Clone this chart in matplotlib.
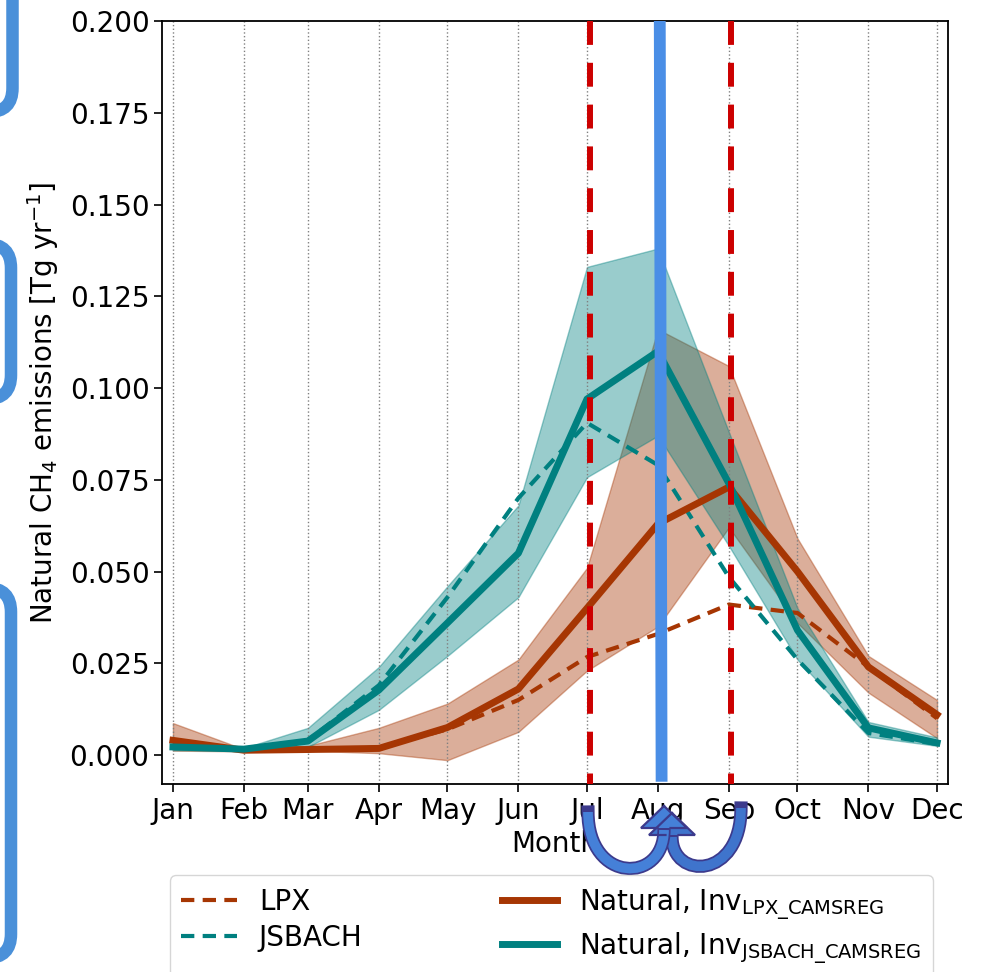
import numpy as np
import matplotlib.pyplot as plt
import matplotlib.patheffects as pe
from matplotlib.patches import FancyBboxPatch, PathPatch, Polygon
from matplotlib.lines import Line2D
from matplotlib.path import Path

# monthly values (Tg/yr)
months = ['Jan', 'Feb', 'Mar', 'Apr', 'May', 'Jun', 'Jul', 'Aug', 'Sep', 'Oct', 'Nov', 'Dec']
doy = [1, 32, 60, 91, 121, 152, 182, 213, 244, 274, 305, 335]

lpx = [0.003, 0.0015, 0.0015, 0.002, 0.007, 0.015, 0.0267, 0.033, 0.041, 0.0387, 0.024, 0.010]
jsbach = [0.002, 0.0015, 0.004, 0.019, 0.043, 0.070, 0.0905, 0.079, 0.0485, 0.026, 0.006, 0.003]

inv_lpx = [0.004, 0.0013, 0.0015, 0.0018, 0.0075, 0.018, 0.040, 0.063, 0.073, 0.050, 0.024, 0.011]
inv_lpx_hi = [0.0087, 0.0016, 0.0025, 0.0074, 0.014, 0.026, 0.051, 0.116, 0.106, 0.059, 0.027, 0.015]
inv_lpx_lo = [0.0012, 0.001, 0.0012, 0.0005, -0.0014, 0.0063, 0.023, 0.035, 0.062, 0.036, 0.017, 0.0046]

inv_jsb = [0.0022, 0.0016, 0.0038, 0.0177, 0.036, 0.055, 0.097, 0.110, 0.074, 0.034, 0.0074, 0.0033]
inv_jsb_hi = [0.003, 0.0019, 0.0074, 0.024, 0.046, 0.068, 0.133, 0.138, 0.088, 0.040, 0.009, 0.0048]
inv_jsb_lo = [0.0013, 0.0012, 0.0022, 0.0123, 0.027, 0.043, 0.0757, 0.087, 0.057, 0.026, 0.005, 0.0025]

BROWN = '#a63603'
TEAL = '#008080'

plt.rcParams['font.size'] = 20

fig = plt.figure(figsize=(9.9, 9.72), dpi=100)
ax = fig.add_axes([0.1636, 0.1934, 0.794, 0.785])

ax.fill_between(doy, inv_lpx_lo, inv_lpx_hi, color=BROWN, alpha=0.4)
ax.fill_between(doy, inv_jsb_lo, inv_jsb_hi, color=TEAL, alpha=0.4)

ax.plot(doy, lpx, color=BROWN, lw=3, dashes=(3.2, 2.0), label='LPX')
ax.plot(doy, jsbach, color=TEAL, lw=3, dashes=(3.2, 2.0), label='JSBACH')
ax.plot(doy, inv_lpx, '-', color=BROWN, lw=5, label=r'Natural, Inv$_{\mathrm{LPX\_CAMSREG}}$')
ax.plot(doy, inv_jsb, '-', color=TEAL, lw=5, label=r'Natural, Inv$_{\mathrm{JSBACH\_CAMSREG}}$')

ax.set_xlim(-3.8, 339.8)
ax.set_ylim(-0.0079, 0.2)
ax.set_xticks(doy)
ax.set_xticklabels(months)
ax.set_yticks(np.arange(0, 0.2001, 0.025))
ax.yaxis.set_major_formatter(plt.FormatStrFormatter('%.3f'))
ax.grid(axis='x', linestyle=':', color='grey', lw=1)
ax.tick_params(length=5.5, width=1.2)
for s in ax.spines.values():
    s.set_linewidth(1.3)

ax.set_xlabel('Month', labelpad=4)
ax.set_ylabel(r'Natural CH$_4$ emissions [Tg yr$^{-1}$]', labelpad=6)

# highlight lines: Jul / Sep window around Aug
trans = ax.get_xaxis_transform()
for xm in [doy[6] + 1.2, doy[8] + 0.8]:
    ax.plot([xm, xm], [1, 0], color='#cc0000', lw=4.3, dashes=(4, 3), transform=trans, zorder=6)
ax.plot([doy[7] + 0.8, doy[7] + 1.6], [1, 0.003], color='#4a8ee6', lw=8.5, transform=trans,
        zorder=6, solid_capstyle='butt')

fig.legend(loc='upper left', bbox_to_anchor=(170 / 990, 1 - 875 / 972), ncol=2,
           borderaxespad=0, columnspacing=5.0, borderpad=0.4, labelspacing=0.28, fontsize=20)

# blue brackets at the left edge
for right, bottom, top in [(12.5, 112, -200), (11, 399, 244), (11, 958, 588)]:
    x0 = -100 / 100
    y0 = (972 - bottom) / 100
    y1 = (972 - top) / 100
    box = FancyBboxPatch((x0, y0), right / 100 - x0, y1 - y0,
                         boxstyle='round,pad=0,rounding_size=0.24',
                         transform=fig.dpi_scale_trans, fc='none', ec='#4a90d9', lw=9)
    fig.add_artist(box)


# curved arrows Jul -> Aug <- Sep (positions in pixels from the top-left)
def P(x, y):
    return (x / 100, (972 - y) / 100)


def curved_arrow(x0, y0, x1, y1, c, fc, ec='#3c3a8c', hl=22, hw=46, bw=13):
    base = y1 + hl
    body = Path([P(x0, y0), P(x0, c), P(x1, c), P(x1, base + 2)],
                [Path.MOVETO, Path.CURVE4, Path.CURVE4, Path.CURVE4])
    fig.add_artist(PathPatch(body, fc='none', ec=fc, lw=7, capstyle='butt',
                             transform=fig.dpi_scale_trans,
                             path_effects=[pe.Stroke(linewidth=9.5, foreground=ec, capstyle='projecting'),
                                           pe.Normal()]))
    head = [P(x1, y1), P(x1 + hw / 2, base), P(x1 + bw / 2, base),
            P(x1 - bw / 2, base), P(x1 - hw / 2, base)]
    fig.add_artist(Polygon(head, closed=True, fc=fc, ec='none', transform=fig.dpi_scale_trans))
    for side in (1, -1):
        pts = [P(x1 + side * bw / 2, base), P(x1 + side * hw / 2, base), P(x1, y1)]
        fig.add_artist(Line2D([p[0] for p in pts], [p[1] for p in pts], color=ec, lw=1.6,
                              solid_joinstyle='miter', transform=fig.dpi_scale_trans))


curved_arrow(741, 808, 672, 813, 880, '#3f74cc')
curved_arrow(588, 812, 664, 806, 884, '#4580d8')

fig.savefig('out.png', dpi=100)
